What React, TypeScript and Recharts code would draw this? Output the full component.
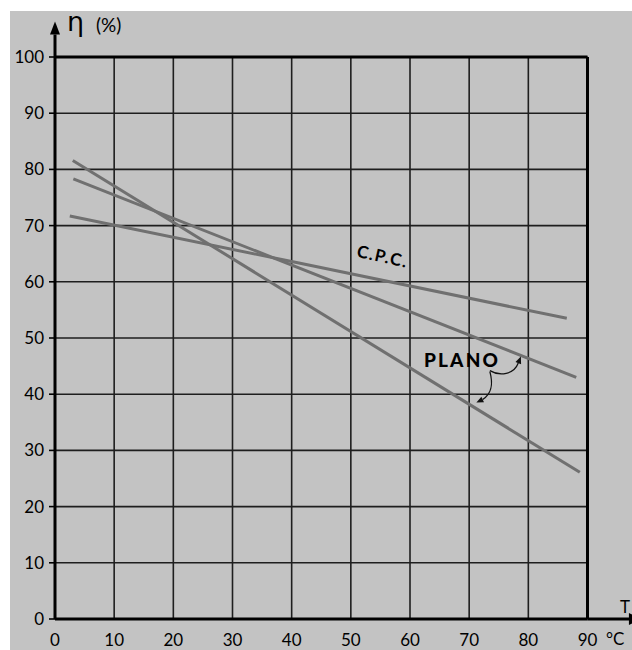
import React from 'react';
import { LineChart, Line, XAxis, YAxis, CartesianGrid, ReferenceLine, ReferenceDot } from 'recharts';

// Tick labels
const xTicks = [0, 10, 20, 30, 40, 50, 60, 70, 80, 90];
const yTicks = [0, 10, 20, 30, 40, 50, 60, 70, 80, 90, 100];

// PLANO (steeper line)
const planoAT = [3.0, 88.7];
const planoAEta = [81.6, 26.1];
// PLANO (upper line)
const planoBT = [3.1, 88.1];
const planoBEta = [78.3, 43.0];
// C.P.C.
const cpcT = [2.5, 40, 86.5];
const cpcEta = [71.7, 63.6, 53.5];

const toRows = (xs: number[], ys: number[]) => xs.map((t, i) => ({ t, eta: ys[i] }));
const planoA = toRows(planoAT, planoAEta);
const planoB = toRows(planoBT, planoBEta);
const cpc = toRows(cpcT, cpcEta);

const FONT = 'Lato, "Noto Sans", sans-serif';
const LINE_COLOR = '#707070';

const YArrow = (props: any) => {
  const { cx, cy } = props;
  return (
    <g>
      <polygon points={`${cx},${cy - 13} ${cx - 5},${cy} ${cx + 5},${cy}`} fill="#000" />
      <text x={cx + 12} y={cy - 4} fontFamily='"DejaVu Sans", sans-serif' fontSize={27} fill="#000">η</text>
      <text x={cx + 41} y={cy - 3} fontFamily={FONT} fontSize={19} fill="#000">(%)</text>
    </g>
  );
};

const XArrow = (props: any) => {
  const { cx, cy } = props;
  return (
    <g>
      <polygon points={`${cx},${cy - 6} ${cx},${cy + 6} ${cx + 13},${cy}`} fill="#000" />
      <text x={cx - 9} y={cy - 6} fontFamily={FONT} fontSize={17} fill="#000">T</text>
      <text x={cx - 23} y={cy + 26} fontFamily={FONT} fontSize={17} fill="#000">°C</text>
    </g>
  );
};

const CpcLabel = (props: any) => {
  const { cx, cy } = props;
  return (
    <text
      x={cx}
      y={cy}
      textAnchor="middle"
      dominantBaseline="central"
      fontFamily={FONT}
      fontWeight={700}
      fontSize={17}
      letterSpacing={1.5}
      fill="#000"
      transform={`rotate(12.5 ${cx} ${cy})`}
    >
      C.P.C.
    </text>
  );
};

const PlanoLabel = (props: any) => {
  const { cx, cy } = props;
  return (
    <g>
      <text x={cx - 66} y={cy - 4} fontFamily={FONT} fontWeight={900} fontSize={19} letterSpacing={2.2} fill="#000">
        PLANO
      </text>
      <path d={`M${cx},${cy} C${cx + 10},${cy + 6} ${cx + 24},${cy + 4} ${cx + 28.4},${cy - 7.5}`} fill="none" stroke="#111" strokeWidth={1.3} />
      <polygon points={`${cx + 31},${cy - 14} ${cx + 31.2},${cy - 6.4} ${cx + 25.6},${cy - 8.6}`} fill="#111" />
      <path d={`M${cx},${cy + 1} C${cx + 3},${cy + 12} ${cx + 3},${cy + 22} ${cx - 7.2},${cy + 28.9}`} fill="none" stroke="#111" strokeWidth={1.3} />
      <polygon points={`${cx - 13.5},${cy + 32} ${cx - 5.9},${cy + 31.6} ${cx - 8.5},${cy + 26.2}`} fill="#111" />
    </g>
  );
};

export default function App() {
  return (
    <div style={{ position: 'absolute', left: 0, top: 0, width: 632, height: 650, background: '#fff', overflow: 'hidden' }}>
      <div style={{ position: 'absolute', left: 10, top: 11, width: 622, height: 639, background: '#c3c3c3' }} />
      <div style={{ position: 'absolute', left: 0, top: 0 }}>
        <LineChart width={632} height={650} margin={{ top: 57, right: 34.5, bottom: 6, left: 15 }}>
          <CartesianGrid stroke="#1e1e1e" strokeWidth={1.6} />
          <XAxis
            type="number"
            dataKey="t"
            domain={[0, 90]}
            ticks={xTicks}
            interval={0}
            height={25}
            allowDataOverflow
            axisLine={{ stroke: '#000', strokeWidth: 3 }}
            tickLine={false}
            tickSize={6}
            tickMargin={9}
            tick={{ fontFamily: FONT, fontSize: 17, fill: '#000' }}
          />
          <YAxis
            type="number"
            domain={[0, 100]}
            ticks={yTicks}
            interval={0}
            width={40}
            allowDataOverflow
            axisLine={{ stroke: '#000', strokeWidth: 3 }}
            tickLine={{ stroke: '#000', strokeWidth: 1.6 }}
            tickSize={6}
            tickMargin={5}
            tick={{ fontFamily: FONT, fontSize: 17, fill: '#000' }}
          />
          <YAxis
            yAxisId="r"
            orientation="right"
            type="number"
            domain={[0, 100]}
            ticks={yTicks}
            interval={0}
            width={10}
            axisLine={false}
            tickLine={{ stroke: '#000', strokeWidth: 1.6 }}
            tickSize={5}
            tick={false}
          />
          <ReferenceLine y={100} stroke="#000" strokeWidth={3} />
          <ReferenceLine x={90} stroke="#000" strokeWidth={3} />
          <ReferenceLine segment={[{ x: 90, y: 0 }, { x: 97.5, y: 0 }]} stroke="#000" strokeWidth={3} ifOverflow="visible" />
          <ReferenceLine segment={[{ x: 0, y: 100 }, { x: 0, y: 104 }]} stroke="#000" strokeWidth={3} ifOverflow="visible" />
          <Line data={cpc} dataKey="eta" type="linear" stroke={LINE_COLOR} strokeWidth={3} dot={false} isAnimationActive={false} />
          <Line data={planoB} dataKey="eta" type="linear" stroke={LINE_COLOR} strokeWidth={3} dot={false} isAnimationActive={false} />
          <Line data={planoA} dataKey="eta" type="linear" stroke={LINE_COLOR} strokeWidth={3} dot={false} isAnimationActive={false} />
          <ReferenceDot x={0} y={104} r={0} ifOverflow="visible" shape={YArrow} />
          <ReferenceDot x={97} y={0} r={0} ifOverflow="visible" shape={XArrow} />
          <ReferenceDot x={55.4} y={64.6} r={0} ifOverflow="visible" shape={CpcLabel} />
          <ReferenceDot x={73.5} y={44.2} r={0} ifOverflow="visible" shape={PlanoLabel} />
        </LineChart>
      </div>
    </div>
  );
}
